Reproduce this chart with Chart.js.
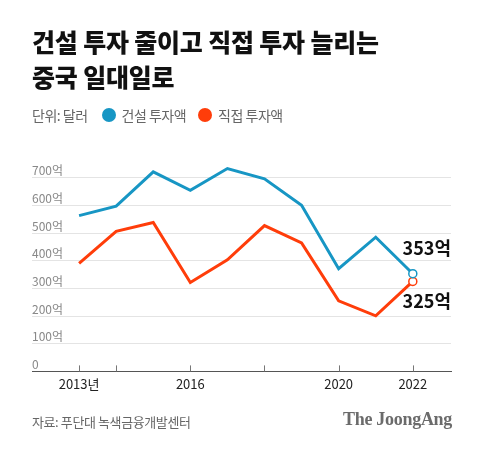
<!DOCTYPE html>
<html>
<head>
    <meta charset="utf-8">
    <title>건설 투자 줄이고 직접 투자 늘리는 중국 일대일로</title>
    <script src="https://cdn.jsdelivr.net/npm/chart.js"></script>
    <style>
        body { margin: 0; background: #fff; }
        .frame {
            position: relative;
            width: 480px;
            height: 451px;
            font-family: 'Noto Sans CJK KR', 'Noto Sans', sans-serif;
            overflow: hidden;
        }
        canvas { position: absolute; left: 0; top: 0; }
        .title {
            position: absolute;
            left: 32px;
            top: 24px;
            margin: 0;
            font-size: 25px;
            line-height: 35px;
            font-weight: 900;
            letter-spacing: -0.2px;
            color: #111;
        }
        .legend {
            position: absolute;
            left: 32px;
            top: 105px;
            height: 20px;
            display: flex;
            align-items: center;
            font-size: 14px;
            letter-spacing: -0.5px;
            color: #666;
        }
        .dot {
            display: inline-block;
            width: 14px;
            height: 14px;
            border-radius: 50%;
            margin-right: 6px;
        }
        .source {
            position: absolute;
            left: 32px;
            top: 412px;
            font-size: 13px;
            letter-spacing: -0.4px;
            color: #666;
        }
        .logo {
            position: absolute;
            right: 28px;
            top: 409px;
            font-family: 'Liberation Serif', 'DejaVu Serif', serif;
            font-weight: 700;
            font-size: 18px;
            letter-spacing: -0.3px;
            color: #6b6b6b;
        }
    </style>
</head>
<body>
<div class="frame">
    <canvas id="trendChart" width="480" height="451"></canvas>
    <h1 class="title">건설 투자 줄이고 직접 투자 늘리는<br>중국 일대일로</h1>
    <div class="legend">
        <span style="margin-right:14px">단위: 달러</span>
        <span class="dot" style="background:#1796c4"></span><span style="margin-right:12px">건설 투자액</span>
        <span class="dot" style="background:#ff3d0a"></span><span>직접 투자액</span>
    </div>
    <div class="source">자료: 푸단대 녹색금융개발센터</div>
    <div class="logo">The JoongAng</div>
</div>

<script>
    // 데이터 (단위: 억 달러)
    const years = [2013, 2014, 2015, 2016, 2017, 2018, 2019, 2020, 2021, 2022];
    const constructionValues = [563, 597, 721, 654, 733, 696, 600, 371, 485, 353];
    const directValues = [390, 506, 538, 321, 403, 527, 464, 255, 201, 325];

    const yTickValues = [0, 100, 200, 300, 400, 500, 600, 700];
    const xTickYears = [2013, 2014, 2016, 2018, 2020, 2022];
    const xTickLabels = ['2013년', '', '2016', '', '2020', '2022'];

    const BLUE = '#1796c4';
    const RED = '#ff3d0a';
    const FONT = "'Noto Sans CJK KR', 'Noto Sans', sans-serif";

    const toPoints = vals => vals.map((v, i) => ({ x: years[i], y: v }));
    const lastOnly = r => ctx => ctx.dataIndex === years.length - 1 ? r : 0;

    // x축 안쪽 눈금 + 마지막 값 라벨
    const extras = {
        id: 'extras',
        afterDraw(chart) {
            const { ctx, chartArea, scales } = chart;
            ctx.save();
            ctx.strokeStyle = '#777';
            ctx.lineWidth = 1;
            xTickYears.forEach(yr => {
                const x = Math.round(scales.x.getPixelForValue(yr)) + 0.5;
                ctx.beginPath();
                ctx.moveTo(x, chartArea.bottom - 6);
                ctx.lineTo(x, chartArea.bottom);
                ctx.stroke();
            });

            ctx.font = 'bold 18px ' + FONT;
            ctx.fillStyle = '#111';
            ctx.textAlign = 'right';
            ctx.textBaseline = 'middle';
            const last = years.length - 1;
            const p1 = chart.getDatasetMeta(0).data[last];
            const p2 = chart.getDatasetMeta(1).data[last];
            ctx.fillText(constructionValues[last] + '억', chartArea.right, p1.y - 26);
            ctx.fillText(directValues[last] + '억', chartArea.right, p2.y + 20);
            ctx.restore();
        }
    };

    new Chart(document.getElementById('trendChart'), {
        type: 'line',
        data: {
            datasets: [{
                label: '건설 투자액',
                data: toPoints(constructionValues),
                borderColor: BLUE,
                borderWidth: 3,
                pointRadius: lastOnly(4),
                pointBorderWidth: 1.5,
                pointBackgroundColor: '#fff',
                pointBorderColor: BLUE,
                tension: 0
            }, {
                label: '직접 투자액',
                data: toPoints(directValues),
                borderColor: RED,
                borderWidth: 3,
                pointRadius: lastOnly(4),
                pointBorderWidth: 1.5,
                pointBackgroundColor: '#fff',
                pointBorderColor: RED,
                tension: 0
            }]
        },
        options: {
            responsive: false,
            animation: false,
            layout: { padding: { left: 32, right: 29, top: 150, bottom: 54 } },
            plugins: {
                legend: { display: false },
                tooltip: { enabled: false }
            },
            scales: {
                x: {
                    type: 'linear',
                    min: 2011.73,
                    max: 2023.03,
                    afterBuildTicks: axis => { axis.ticks = xTickYears.map(v => ({ value: v })); },
                    ticks: {
                        autoSkip: false,
                        maxRotation: 0,
                        padding: 5,
                        color: '#222',
                        font: { family: FONT, size: 13 },
                        callback: v => xTickLabels[xTickYears.indexOf(v)] ?? ''
                    },
                    grid: { drawOnChartArea: false, drawTicks: false },
                    border: { display: true, color: '#555', width: 1 }
                },
                y: {
                    min: 0,
                    max: 800,
                    afterBuildTicks: axis => { axis.ticks = yTickValues.map(v => ({ value: v })); },
                    ticks: {
                        mirror: true,
                        padding: 0,
                        labelOffset: -7,
                        color: '#888',
                        font: { family: FONT, size: 12 },
                        callback: v => v === 0 ? '0' : v + '억'
                    },
                    grid: { color: '#e4e4e4', drawTicks: false },
                    border: { display: false }
                }
            }
        },
        plugins: [extras]
    });
</script>
</body>
</html>
